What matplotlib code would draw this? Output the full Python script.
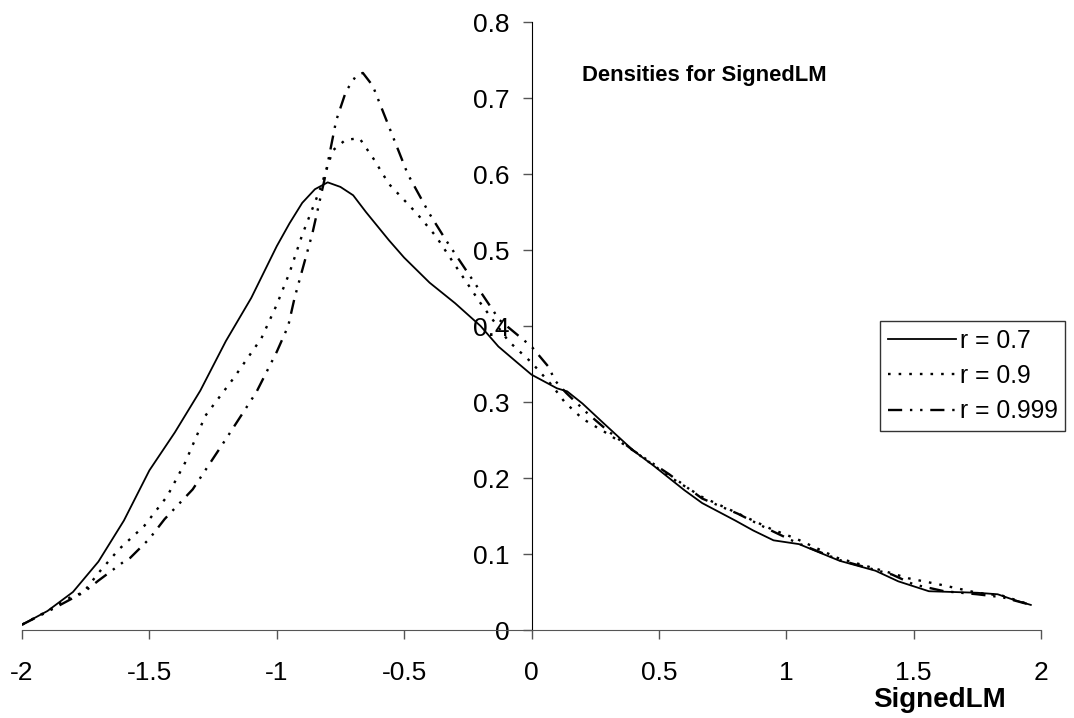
import matplotlib
matplotlib.use("Agg")
import matplotlib.pyplot as plt

plt.rcParams['font.family'] = ['Liberation Sans', 'DejaVu Sans']

# r = 0.7 (solid)
x_07 = [-2.0, -1.9, -1.8, -1.7, -1.6, -1.5, -1.4, -1.3, -1.2, -1.1, -1.0, -0.95, -0.9,
        -0.85, -0.8, -0.75, -0.7, -0.65, -0.56, -0.5, -0.4, -0.3, -0.2, -0.13, -0.06, 0.0,
        0.1, 0.14, 0.2, 0.28, 0.4, 0.48, 0.6, 0.67, 0.8, 0.87, 0.95, 1.05, 1.21, 1.35,
        1.44, 1.56, 1.75, 1.83, 1.89, 1.96]
y_07 = [0.007, 0.025, 0.05, 0.09, 0.144, 0.21, 0.26, 0.315, 0.38, 0.437, 0.505, 0.535, 0.562,
        0.58, 0.589, 0.583, 0.572, 0.55, 0.513, 0.49, 0.457, 0.43, 0.4, 0.373, 0.353, 0.336,
        0.318, 0.314, 0.298, 0.273, 0.236, 0.216, 0.184, 0.167, 0.144, 0.131, 0.118, 0.113,
        0.091, 0.078, 0.064, 0.051, 0.049, 0.047, 0.04, 0.033]

# r = 0.9 (dotted)
x_09 = [-2.0, -1.9, -1.8, -1.76, -1.7, -1.62, -1.52, -1.43, -1.36, -1.28, -1.17, -1.06, -1.0,
        -0.95, -0.9, -0.83, -0.78, -0.73, -0.675, -0.62, -0.56, -0.45, -0.375, -0.3, -0.2,
        -0.09, 0.0, 0.08, 0.13, 0.2, 0.3, 0.4, 0.54, 0.67, 0.8, 0.94, 1.04, 1.2, 1.4, 1.48,
        1.6, 1.75, 1.85, 1.96]
y_09 = [0.007, 0.025, 0.045, 0.049, 0.075, 0.106, 0.137, 0.176, 0.22, 0.282, 0.331, 0.384,
        0.428, 0.47, 0.52, 0.58, 0.631, 0.645, 0.647, 0.62, 0.587, 0.548, 0.518, 0.48, 0.43,
        0.38, 0.352, 0.322, 0.3, 0.278, 0.258, 0.236, 0.202, 0.175, 0.155, 0.133, 0.12, 0.095,
        0.076, 0.068, 0.06, 0.049, 0.045, 0.033]

# r = 0.999 (dash-dot-dot)
x_0999 = [-2.0, -1.9, -1.8, -1.76, -1.7, -1.6, -1.575, -1.5, -1.44, -1.33, -1.2, -1.08, -1.0,
          -0.955, -0.93, -0.86, -0.813, -0.767, -0.728, -0.689, -0.662, -0.623, -0.558, -0.486,
          -0.401, -0.336, -0.25, -0.126, 0.0, 0.07, 0.09, 0.136, 0.22, 0.3, 0.4, 0.54, 0.67,
          0.81, 0.94, 1.04, 1.21, 1.415, 1.5, 1.62, 1.75, 1.85, 1.96]
y_0999 = [0.007, 0.024, 0.042, 0.049, 0.065, 0.09, 0.095, 0.12, 0.146, 0.185, 0.251, 0.313,
          0.366, 0.4, 0.437, 0.522, 0.592, 0.67, 0.709, 0.729, 0.733, 0.716, 0.661, 0.6,
          0.548, 0.513, 0.47, 0.408, 0.373, 0.345, 0.329, 0.312, 0.285, 0.262, 0.236, 0.205,
          0.173, 0.153, 0.131, 0.115, 0.092, 0.073, 0.06, 0.051, 0.047, 0.043, 0.033]

x_ticks = [-2, -1.5, -1, -0.5, 0, 0.5, 1, 1.5, 2]
x_tick_labels = ['-2', '-1.5', '-1', '-0.5', '0', '0.5', '1', '1.5', '2']
y_ticks = [0, 0.1, 0.2, 0.3, 0.4, 0.5, 0.6, 0.7, 0.8]
y_tick_labels = ['0', '0.1', '0.2', '0.3', '0.4', '0.5', '0.6', '0.7', '0.8']

fig = plt.figure(figsize=(10.74, 7.18), dpi=100)
ax = fig.add_axes([22 / 1074, 1 - 630 / 718, (1041 - 22) / 1074, (630 - 22) / 718])

ax.plot(x_07, y_07, color='black', lw=1.3, ls='-', label='r = 0.7')
ax.plot(x_09, y_09, color='black', lw=1.7, ls=(0, (1.1, 3.4)), label='r = 0.9')
ax.plot(x_0999, y_0999, color='black', lw=1.7, ls=(0, (6, 3.3, 1, 3.3, 1, 3.3)),
        label='r = 0.999')

ax.set_xlim(-2, 2)
ax.set_ylim(0, 0.8)
ax.set_xticks(x_ticks)
ax.set_xticklabels(x_tick_labels)
ax.set_yticks(y_ticks)
ax.set_yticklabels(y_tick_labels)

ax.spines['left'].set_position(('data', 0))
ax.spines['top'].set_visible(False)
ax.spines['right'].set_visible(False)
ax.spines['left'].set_color('black')
ax.spines['bottom'].set_color('#555555')
ax.tick_params(axis='x', direction='out', length=6.5, width=1, color='#555555',
               labelsize=19, pad=16)
ax.tick_params(axis='y', direction='out', length=6.5, width=1, color='#555555',
               labelsize=19, pad=9)

fig.text(582 / 1074, 1 - 76 / 718, 'Densities for SignedLM', fontsize=15.8,
         fontweight='bold', ha='left', va='center')
fig.text(940 / 1074, 1 - 700 / 718, 'SignedLM', fontsize=20, fontweight='bold',
         ha='center', va='center')

leg = ax.legend(loc='upper left', bbox_to_anchor=(880 / 1074, 1 - 321 / 718),
                bbox_transform=fig.transFigure, fontsize=17.8, frameon=True, fancybox=False,
                borderaxespad=0, handlelength=2.75, handletextpad=0.15, labelspacing=0.45,
                borderpad=0.32)
leg.get_frame().set_edgecolor('black')
leg.get_frame().set_linewidth(1.0)

fig.savefig('out.png', dpi=100)
